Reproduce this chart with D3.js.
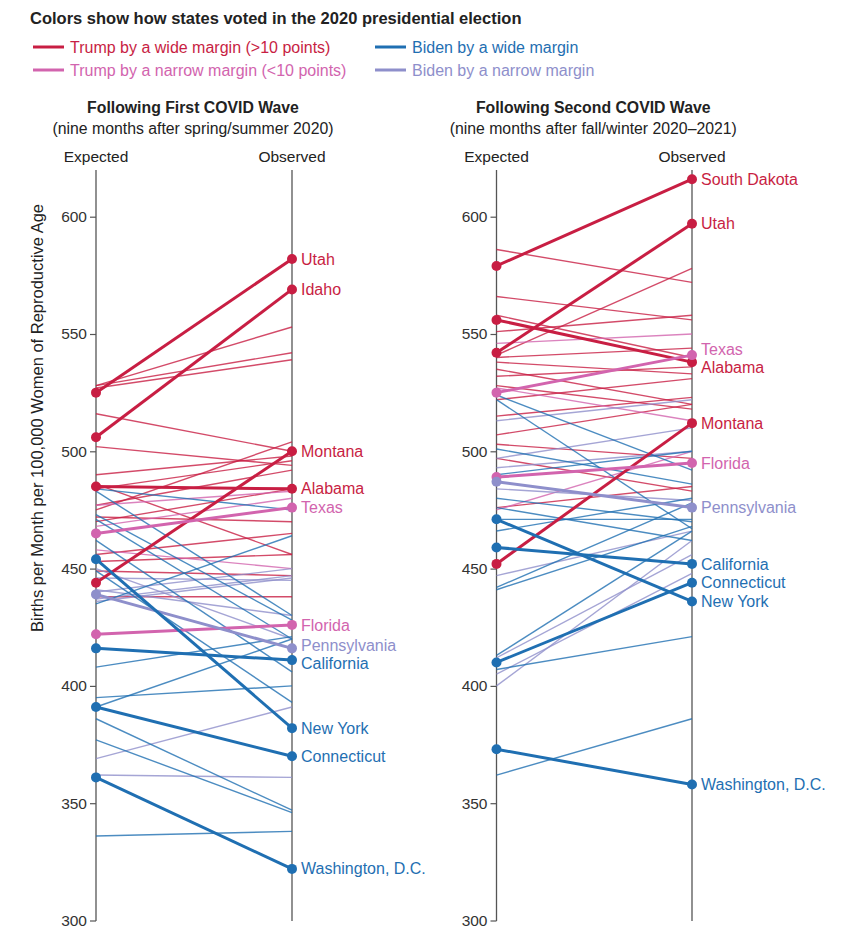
<!DOCTYPE html>
<html><head><meta charset="utf-8">
<script src="https://cdn.jsdelivr.net/npm/d3@7"></script>
<style>body{margin:0;background:#fff;font-family:"Liberation Sans",Arial,sans-serif;}</style>
</head><body><svg id="c" width="848" height="944"></svg>
<script>
// ---- data ----
const groupKeys = ["R","r","B","b"];
const groupLabels = ["Trump by a wide margin (>10 points)","Trump by a narrow margin (<10 points)","Biden by a wide margin","Biden by a narrow margin"];
const groupColors = ["#c81e43","#d264ae","#1f6fb2","#8e8fcb"];

// Wave 1
const wave1States = ["Utah","Idaho","Montana","Alabama","R5","R6","R7","R8","R9","R10","R11","R12","R13","R14","R15","R16","R17","R18","R19","R20",
  "Texas","Florida","r3","r4","r5",
  "Pennsylvania","b2","b3","b4","b5","b6","b7","b8","b9",
  "California","New York","Connecticut","Washington, D.C.","B5","B6","B7","B8","B9","B10","B11","B12","B13","B14","B15","B16","B17"];
const wave1Groups = ["R","R","R","R","R","R","R","R","R","R","R","R","R","R","R","R","R","R","R","R",
  "r","r","r","r","r",
  "b","b","b","b","b","b","b","b","b",
  "B","B","B","B","B","B","B","B","B","B","B","B","B","B","B","B","B"];
const wave1Expected = [525,506,444,485, 528,528,527,516,502,490,486,484,477,475,472,470,456,453,449,438,
  465,422,477,468,458,
  439,440,437,436,441,446,369,362,450,
  416,454,391,361, 484,483,473,471,462,435,449,408,395,391,386,377,336];
const wave1Observed = [582,569,500,484, 553,542,539,500,494,498,456,496,492,504,470,484,465,456,447,438,
  476,426,483,480,450,
  416,450,447,446,430,445,391,361,420,
  411,382,370,322, 475,430,428,420,406,464,393,421,400,420,347,346,338];
const wave1Labeled = ["Utah","Idaho","Montana","Alabama","Texas","Florida","Pennsylvania","California","New York","Connecticut","Washington, D.C."];

// Wave 2
const wave2States = ["South Dakota","Utah","Alabama","Montana","R5","R6","R7","R8","R9","R10","R11","R12","R13","R14","R15","R16","R17","R18","R19","R20",
  "Texas","Florida","r3","r4","r5",
  "Pennsylvania","b2","b3","b4","b5","b6","b7","b8","b9",
  "California","Connecticut","New York","Washington, D.C.","B5","B6","B7","B8","B9","B10","B11","B12","B13","B14","B15","B16","B17"];
const wave2Groups = wave1Groups;
const wave2Expected = [579,542,556,452, 586,566,558,551,541,540,538,535,532,528,522,515,507,503,497,476,
  525,489,546,527,475,
  487,513,497,493,484,447,412,400,405,
  459,410,471,373, 524,522,501,490,480,476,471,466,442,441,413,407,362];
const wave2Observed = [616,597,538,512, 572,556,540,558,578,544,533,520,536,518,531,523,520,497,483,485,
  541,495,550,513,500,
  476,522,510,500,479,466,456,462,448,
  452,444,436,358, 492,467,486,500,470,462,471,480,478,468,466,421,386];
const wave2Labeled = ["South Dakota","Utah","Alabama","Montana","Texas","Florida","Pennsylvania","California","Connecticut","New York","Washington, D.C."];

const yTicks = [300,350,400,450,500,550,600];
const panelTitles = ["Following First COVID Wave","Following Second COVID Wave"];
const panelSubtitles = ["(nine months after spring/summer 2020)","(nine months after fall/winter 2020\u20132021)"];
const axisNames = ["Expected","Observed"];

// ---- drawing ----
const svg = d3.select("#c");
const color = d3.scaleOrdinal().domain(groupKeys).range(groupColors);
const y = d3.scaleLinear().domain([300,600]).range([920.5,216.7]);

svg.append("text").attr("x",30).attr("y",24).attr("font-size",16.5).attr("font-weight","bold").attr("fill","#222")
  .text("Colors show how states voted in the 2020 presidential election");

const legPos = [[33,47],[33,70],[375,47],[375,70]];
groupKeys.forEach((k,i)=>{
  const [lx,ly]=legPos[i];
  svg.append("line").attr("x1",lx).attr("x2",lx+31).attr("y1",ly).attr("y2",ly)
    .attr("stroke",color(k)).attr("stroke-width",3);
  svg.append("text").attr("x",lx+37).attr("y",ly+5.5).attr("font-size",16).attr("fill",color(k)).text(groupLabels[i]);
});

function panel(x0, x1, states, groups, exp, obs, labeled, pi){
  const x = d3.scalePoint().domain(axisNames).range([x0,x1]);
  const g = svg.append("g");
  const cx = (x0+x1)/2 - 1;
  g.append("text").attr("x",cx).attr("y",113).attr("text-anchor","middle").attr("font-size",15.8).attr("font-weight","bold").attr("fill","#222").text(panelTitles[pi]);
  g.append("text").attr("x",cx).attr("y",134).attr("text-anchor","middle").attr("font-size",15.8).attr("fill","#222").text(panelSubtitles[pi]);
  axisNames.forEach(a=>{
    g.append("text").attr("x",x(a)).attr("y",162).attr("text-anchor","middle").attr("font-size",15.5).attr("fill","#222").text(a);
    g.append("line").attr("x1",x(a)).attr("x2",x(a)).attr("y1",170).attr("y2",921).attr("stroke","#555").attr("stroke-width",1.3);
  });
  const ax = g.append("g").attr("transform",`translate(${x0},0)`)
    .call(d3.axisLeft(y).tickValues(yTicks).tickSize(6).tickPadding(3));
  ax.select(".domain").remove();
  ax.selectAll(".tick line").attr("stroke","#555").attr("stroke-width",1.2);
  ax.selectAll(".tick text").attr("font-size",15.5).attr("fill","#333").attr("font-family","Liberation Sans, Arial, sans-serif");

  const data = states.map((s,i)=>({s, g:groups[i], e:exp[i], o:obs[i], hl: labeled.includes(s)}));
  const thin = data.filter(d=>!d.hl), thick = data.filter(d=>d.hl);
  g.selectAll(".thin").data(thin).join("line")
    .attr("x1",x("Expected")).attr("x2",x("Observed"))
    .attr("y1",d=>y(d.e)).attr("y2",d=>y(d.o))
    .attr("stroke",d=>color(d.g)).attr("stroke-width",1.4).attr("stroke-opacity",0.8);
  g.selectAll(".thick").data(thick).join("line")
    .attr("x1",x("Expected")).attr("x2",x("Observed"))
    .attr("y1",d=>y(d.e)).attr("y2",d=>y(d.o))
    .attr("stroke",d=>color(d.g)).attr("stroke-width",3);
  thick.forEach(d=>{
    ["e","o"].forEach(k=>{
      g.append("circle").attr("cx",x(k==="e"?"Expected":"Observed")).attr("cy",y(d[k])).attr("r",5).attr("fill",color(d.g));
    });
  });
  const labs = thick.map(d=>({d, ty:y(d.o)})).sort((a,b)=>a.ty-b.ty);
  for(let it=0;it<50;it++){
    for(let i=1;i<labs.length;i++){
      const gap = labs[i].ty - labs[i-1].ty;
      if(gap<18.5){ const m=(18.5-gap)/2; labs[i].ty+=m; labs[i-1].ty-=m; }
    }
  }
  labs.forEach(l=>{
    g.append("text").attr("x",x("Observed")+9).attr("y",l.ty).attr("dy","0.35em")
      .attr("font-size",16).attr("fill",color(l.d.g)).text(l.d.s);
  });
}
panel(96, 292, wave1States, wave1Groups, wave1Expected, wave1Observed, wave1Labeled, 0);
panel(496.5, 692, wave2States, wave2Groups, wave2Expected, wave2Observed, wave2Labeled, 1);

svg.append("text").attr("transform","translate(43,418) rotate(-90)").attr("text-anchor","middle")
  .attr("font-size",16.5).attr("fill","#222").text("Births per Month per 100,000 Women of Reproductive Age");
</script></body></html>
